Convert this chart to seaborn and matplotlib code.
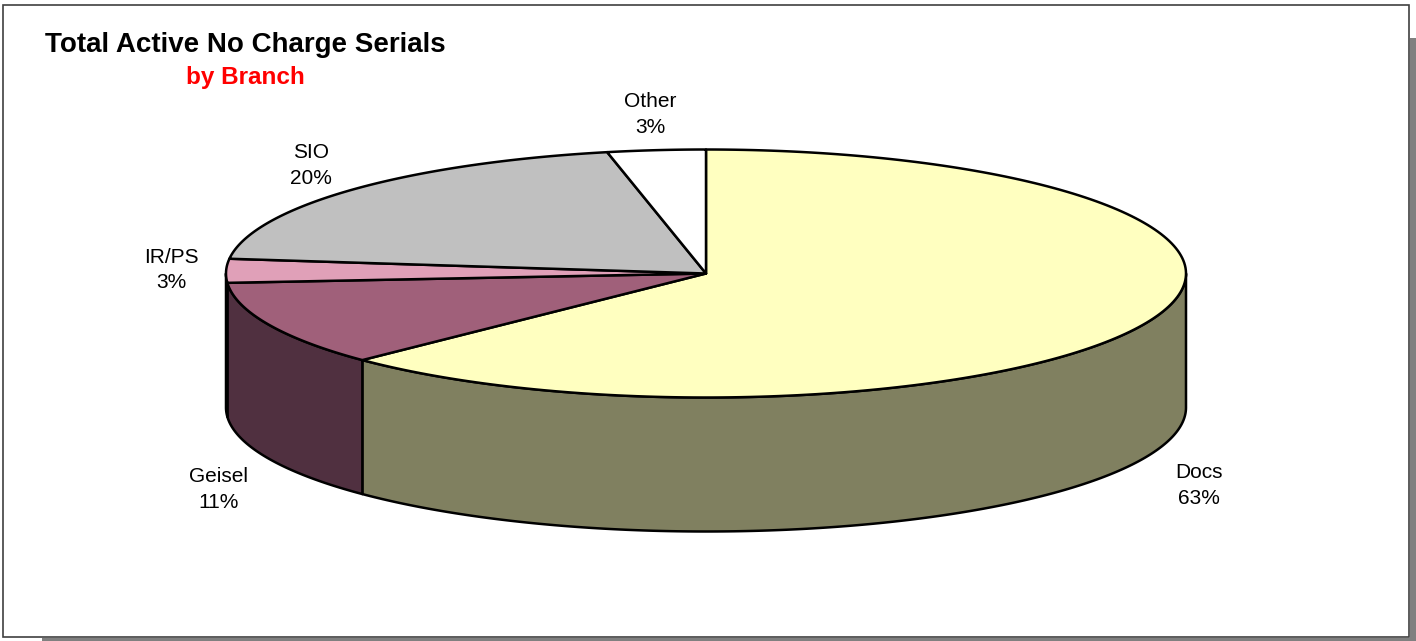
import numpy as np
import matplotlib
matplotlib.use("Agg")
import matplotlib.pyplot as plt
from matplotlib.patches import Polygon, Rectangle
import seaborn as sns

# data (share of serials, %)
branches = ['Docs', 'Geisel', 'IR/PS', 'SIO', 'Other']
shares = [62.7, 11.1, 3.1, 19.8, 3.3]
top_colors = ['#FFFFC0', '#A0607A', '#E0A0B8', '#C0C0C0', '#FFFFFF']
side_colors = ['#808060', '#503040', '#705060', '#606060', '#808080']

sns.set_theme(style="white")
plt.rcParams['font.family'] = ['Liberation Sans', 'DejaVu Sans']

fig = plt.figure(figsize=(14.16, 6.41), dpi=100)
ax = fig.add_axes([0, 0, 1, 1])
ax.set_xlim(0, 1416)
ax.set_ylim(641, 0)
ax.axis('off')

# frame with drop shadow
ax.add_patch(Rectangle((1409.5, 38), 7, 605, facecolor='#808080', edgecolor='none'))
ax.add_patch(Rectangle((42, 637.5), 1376, 5, facecolor='#808080', edgecolor='none'))
ax.add_patch(Rectangle((3, 5), 1406, 632, facecolor='white', edgecolor='#404040', lw=1.2))

# pie geometry
cx, cy = 706, 273.5
rx, ry = 480, 124
depth = 134


def arc(t1, t2, dy=0, n=200):
    t = np.radians(np.linspace(t1, t2, n))
    return np.column_stack([cx + rx * np.cos(t), cy - ry * np.sin(t) + dy])


total = sum(shares)
bounds = 90 - 360 * np.concatenate([[0], np.cumsum(shares)]) / total

# visible sides first (front half: -180..0 deg)
for i in range(len(shares)):
    start, end = bounds[i], bounds[i + 1]
    hi = min(start, 0)
    lo = max(end, -180)
    if hi <= lo:
        continue
    top = arc(hi, lo)
    bot = arc(lo, hi, dy=depth)
    ax.add_patch(Polygon(np.vstack([top, bot]), closed=True, facecolor=side_colors[i],
                         edgecolor='black', lw=1.8, joinstyle='round'))

# top faces
for i in range(len(shares)):
    pts = np.vstack([[cx, cy], arc(bounds[i], bounds[i + 1])])
    ax.add_patch(Polygon(pts, closed=True, facecolor=top_colors[i],
                         edgecolor='black', lw=1.8, joinstyle='round'))

# labels
for i, name in enumerate(branches):
    mid = np.radians((bounds[i] + bounds[i + 1]) / 2)
    lx = cx + 535 * np.cos(mid)
    ly = cy - 160 * np.sin(mid) + (150 if np.sin(mid) < 0 else 0)
    pct = round(shares[i] / total * 100)
    ax.text(lx, ly, f"{name}\n{pct}%", ha='center', va='center', fontsize=15,
            linespacing=1.45, color='black')

ax.text(245, 52, 'Total Active No Charge Serials', ha='center', va='baseline',
        fontsize=20, fontweight='bold', color='black')
ax.text(245, 84, 'by Branch', ha='center', va='baseline',
        fontsize=17.5, fontweight='bold', color='#FF0000')

fig.savefig('out.png', dpi=100)
